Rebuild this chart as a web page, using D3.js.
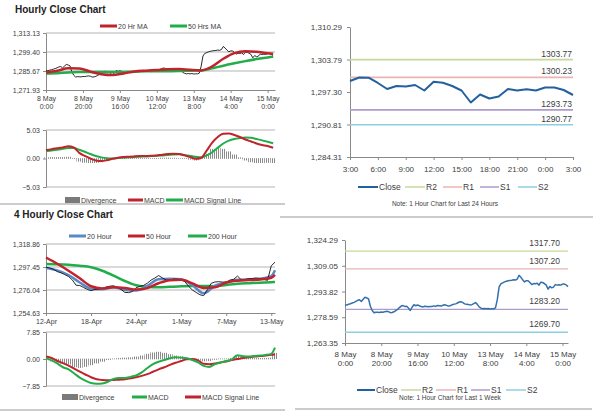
<!DOCTYPE html>
<html>
<head>
<meta charset="utf-8">
<script src="https://cdn.jsdelivr.net/npm/d3@7"></script>
<style>
body{margin:0;background:#fff}
text{font-family:"Liberation Sans",Arial,sans-serif}
</style>
</head>
<body>
<svg id="chart" width="600" height="413"></svg>
<script>
// ---- data ----
// hourly close, 8 May 0:00 .. 15 May 3:00 (weekend skipped)
var hourClose = [
1286.0,1285.8,1286.3,1286.6,1287.0,1287.4,1288.0,1288.6,1288.9,1287.9,
1289.2,1290.4,1290.0,1289.4,1285.1,1282.6,1281.3,1281.6,1281.5,1281.4,
1281.7,1281.6,1281.9,1282.1,1281.9,1281.3,1281.4,1281.8,1282.5,1283.2,
1284.3,1285.2,1285.5,1285.0,1285.1,1284.0,1282.6,1284.5,1286.0,1285.4,
1285.8,1285.4,1284.9,1284.7,1285.1,1285.0,1284.8,1285.0,1285.0,1285.3,
1285.0,1285.6,1285.4,1285.2,1285.7,1286.0,1285.6,1285.2,1285.4,1285.9,
1286.3,1286.5,1287.0,1287.6,1287.8,1287.2,1286.5,1286.3,1286.1,1285.9,
1286.0,1286.6,1287.3,1286.2,1284.7,1284.0,1283.6,1283.8,1283.6,1283.8,
1283.5,1283.6,1283.6,1284.1,1289.0,1296.5,1298.4,1298.9,1299.5,1299.9,
1300.2,1300.4,1300.5,1300.8,1300.6,1301.2,1303.4,1302.2,1300.8,1299.5,
1300.2,1300.15,1299.1,1297.9,1298.5,1298.4,1298.7,1297.6,1299.35,1299.15,
1298.5,1297.6,1295.2,1296.8,1296.0,1296.4,1297.9,1297.6,1297.85,1297.6,
1298.2,1298.2,1297.7,1296.7
];
var hourMaIdx = [0,6,12,18,24,30,36,42,48,54,60,66,72,78,84,90,96,102,108,114,120,123];
var ma20Hr = [1284.5,1285.8,1287.6,1287.5,1285.2,1283.3,1282.7,1283.9,1285.3,1285.9,1286.4,1287.0,1287.1,1286.5,1286.1,1289.0,1294.5,1298.6,1299.9,1299.5,1298.5,1298.2];
var ma50Hr = [1283.7,1284.1,1284.6,1285.0,1285.0,1284.9,1284.9,1285.0,1285.2,1285.4,1285.4,1285.5,1285.6,1285.9,1286.1,1287.6,1289.5,1291.2,1292.8,1294.3,1295.5,1296.0];
var hourMacdIdx = d3.range(0, 124, 3);
var hourMacd = [1.48,1.65,1.8,1.95,2.15,1.95,1.0,0.45,0.0,-0.35,-0.45,-0.3,-0.05,0.15,0.28,0.33,0.38,0.42,0.44,0.47,0.55,0.68,0.78,0.82,0.78,0.55,0.25,-0.05,0.1,1.4,2.8,3.8,4.35,4.4,4.15,3.8,3.35,3.0,2.65,2.4,2.2,1.9];
var hourSignal = [1.30,1.42,1.55,1.7,1.85,1.85,1.55,1.2,0.8,0.45,0.2,0.05,0.0,0.08,0.15,0.22,0.28,0.32,0.36,0.42,0.48,0.55,0.62,0.7,0.75,0.62,0.45,0.3,0.2,0.55,1.1,1.9,2.65,3.15,3.45,3.6,3.7,3.65,3.45,3.2,2.95,2.7];
var hourDiv = [0.2,0.25,0.25,0.25,0.3,0.1,-0.55,-0.75,-0.8,-0.8,-0.65,-0.35,-0.05,0.07,0.13,0.11,0.1,0.1,0.08,0.05,0.07,0.13,0.16,0.12,0.03,-0.07,-0.2,-0.35,-0.1,0.85,1.7,1.9,1.7,1.25,0.7,0.2,-0.35,-0.65,-0.8,-0.8,-0.75,-0.8];

// last 24 hours = tail of the hourly series
var dayStart = 99;

// 4 hourly close, 12 Apr .. 13 May
var h4Idx = d3.range(0, 123, 2);
var h4Close = [
1297.4,1296.5,1295.3,1293.2,1292.0,1290.4,1288.6,1285.5,1280.5,1280.2,
1278.4,1276.6,1275.4,1276.5,1276.9,1277.6,1278.8,1279.6,1280.0,1278.5,
1276.6,1273.8,1273.6,1274.6,1278.2,1279.4,1280.3,1282.4,1285.3,1287.2,
1289.5,1287.3,1285.4,1285.2,1286.3,1286.2,1285.6,1283.8,1279.5,1276.0,
1273.8,1271.6,1270.8,1276.5,1282.2,1283.5,1283.8,1283.4,1283.3,1285.3,
1286.0,1289.0,1285.6,1285.8,1286.5,1286.8,1287.2,1286.6,1286.0,1285.0,
1298.5,1302.0
];
var h4MaIdx = [0,6,12,18,24,30,36,42,48,54,60,66,72,78,84,90,96,102,108,114,120,122];
var ma20Hour = [1296.5,1294.3,1290.0,1283.0,1277.3,1276.8,1278.6,1276.0,1275.5,1279.8,1286.0,1286.5,1286.0,1280.5,1273.0,1280.0,1282.8,1285.5,1286.0,1286.5,1289.0,1294.5];
var ma50Hour = [1306.3,1300.5,1294.0,1287.0,1279.5,1277.5,1278.7,1278.0,1276.4,1277.8,1282.3,1285.2,1285.5,1282.2,1278.0,1278.5,1283.0,1284.7,1285.3,1285.9,1287.5,1290.2];
var ma200Hour = [1300.3,1300.1,1299.6,1298.6,1297.3,1294.0,1289.5,1284.4,1280.4,1279.0,1278.5,1279.0,1279.5,1279.8,1279.8,1279.6,1280.8,1281.8,1282.4,1282.9,1283.3,1283.5];
var h4MacdIdx = d3.range(0, 121, 3).concat([122]);
var h4Macd = [0.2,-0.4,-1.3,-2.4,-3.0,-4.2,-5.4,-6.3,-7.0,-7.2,-7.1,-6.6,-5.8,-5.5,-5.5,-5.2,-4.8,-3.9,-2.6,-1.5,-0.8,-0.3,0.2,0.5,0.4,0.2,-0.3,-1.0,-2.0,-2.3,-1.5,-1.0,-0.6,-0.1,1.1,0.8,0.7,0.9,1.0,1.2,1.5,3.3];
var h4Signal = [0.7,0.3,-0.5,-1.2,-1.9,-2.8,-3.7,-4.5,-5.3,-5.9,-6.1,-6.2,-6.1,-6.0,-5.9,-5.6,-5.3,-4.9,-4.4,-3.7,-3.0,-2.4,-1.7,-1.1,-0.6,-0.1,0.0,-0.4,-1.4,-1.5,-1.3,-1.0,-0.7,-0.3,0.0,0.3,0.5,0.7,0.85,1.0,1.2,1.4];
var h4Div = [-0.3,-0.7,-1.0,-1.4,-1.6,-2.4,-2.6,-2.3,-1.8,-1.3,-0.8,-0.3,0.1,0.3,0.4,0.5,0.7,1.0,1.5,1.9,2.1,1.8,1.4,1.0,0.8,0.4,-0.2,-0.5,-0.7,-0.6,-0.2,0.1,0.1,0.3,0.9,0.5,0.3,0.3,0.3,0.3,0.4,1.8];

// ticks / labels
var hourTickIdx = [0,20,40,60,80,100,120];
var hourTicks = ["8 May|0:00","8 May|20:00","9 May|16:00","10 May|12:00","13 May|8:00","14 May|4:00","15 May|0:00"];
var dayTickIdx = [0,3,6,9,12,15,18,21,24];
var dayTicks = ["3:00","6:00","9:00","12:00","15:00","18:00","21:00","0:00","3:00"];
var h4TickIdx = [0,24,48,72,96,120];
var h4Ticks = ["12-Apr","18-Apr","24-Apr","1-May","7-May","13-May"];
var hourPriceTicks = [1271.93,1285.67,1299.40,1313.13];
var hourMacdTicks = [-5.03,0,5.03];
var dayPriceTicks = [1284.31,1290.81,1297.30,1303.79,1310.29];
var h4PriceTicks = [1254.63,1276.04,1297.45,1318.86];
var h4MacdTicks = [-7.85,0,7.85];
var weekPriceTicks = [1263.35,1278.59,1293.82,1309.05,1324.29];
var levelNames = ["R2","R1","S1","S2"];
var dayLevels = [1303.77,1300.23,1293.73,1290.77];
var weekLevels = [1317.70,1307.20,1283.20,1269.70];

var RED = "#c0232c", GREEN = "#23ad4a", BLUE = "#5a8ac6", CLOSE = "#23609f";
var levelColors = ["#c6d89e","#eab4b4","#ad9bcb","#8ccfe0"];
var AXIS = "#8a8a8a", GRID = "#b4b4b4", TXT = "#404040";

var svg = d3.select("#chart");
svg.append("rect").attr("width", 600).attr("height", 413).attr("fill", "#fff");
svg.append("defs").append("pattern")
    .attr("id", "hatch").attr("patternUnits", "userSpaceOnUse")
    .attr("width", 2).attr("height", 4)
    .append("rect").attr("width", 1).attr("height", 4).attr("fill", "#8a8a8a");

var fmt2 = d3.format(",.2f");

function styleAxis(g, size) {
    g.attr("font-family", "Liberation Sans, Arial, sans-serif").attr("font-size", size);
    g.select(".domain").attr("stroke", AXIS);
    g.selectAll(".tick line").attr("stroke", AXIS);
    g.selectAll(".tick text").attr("fill", TXT);
}

function leftAxis(x0, y, ticks, size, pad, f) {
    var g = svg.append("g").attr("transform", "translate(" + x0 + ",0)")
        .call(d3.axisLeft(y).tickValues(ticks).tickSize(3).tickSizeOuter(0).tickPadding(pad).tickFormat(f || fmt2));
    styleAxis(g, size);
    return g;
}

function bottomAxis(y0, x, idx, labels, size, pad) {
    var g = svg.append("g").attr("transform", "translate(0," + y0 + ")")
        .call(d3.axisBottom(x).tickValues(idx).tickSize(3).tickSizeOuter(0).tickPadding(pad)
            .tickFormat(function(d, i) { return labels[i]; }));
    styleAxis(g, size);
    g.selectAll(".tick text").each(function() {
        var t = d3.select(this), parts = t.text().split("|");
        t.text(null).attr("dy", null);
        parts.forEach(function(p, i) {
            t.append("tspan").attr("x", 0).attr("dy", i ? "1.15em" : "0.71em").text(p);
        });
    });
    return g;
}

function grid(y, vals, x0, x1, dash) {
    svg.append("g").selectAll("line").data(vals).enter().append("line")
        .attr("x1", x0).attr("x2", x1)
        .attr("y1", function(d) { return y(d); }).attr("y2", function(d) { return y(d); })
        .attr("stroke", GRID).attr("stroke-width", 1)
        .attr("stroke-dasharray", dash || null);
}

function series(x, y, idx, vals, color, w, curve) {
    svg.append("path")
        .attr("d", d3.line().curve(curve || d3.curveLinear)
            .x(function(d, i) { return x(idx[i]); })
            .y(function(d) { return y(d); })(vals))
        .attr("fill", "none").attr("stroke", color).attr("stroke-width", w)
        .attr("stroke-linejoin", "round");
}

function divBars(x, y, idx, vals, step) {
    var bw = x(step) - x(0);
    svg.append("g").selectAll("rect").data(vals).enter().append("rect")
        .attr("x", function(d, i) { return x(idx[i]) - bw / 2; })
        .attr("width", bw)
        .attr("y", function(d) { return Math.min(y(d), y(0)); })
        .attr("height", function(d) { return Math.abs(y(d) - y(0)); })
        .attr("fill", "url(#hatch)");
}

function legend(y, items, size) {
    var g = svg.append("g");
    items.forEach(function(it) {
        if (it.kind == "hatch")
            g.append("rect").attr("x", it.x).attr("y", y - 3).attr("width", it.w).attr("height", 6).attr("fill", "#7a7a7a");
        else
            g.append("line").attr("x1", it.x).attr("x2", it.x + it.w).attr("y1", y).attr("y2", y)
                .attr("stroke", it.color).attr("stroke-width", it.sw || 3);
        g.append("text").attr("x", it.x + it.w + 1).attr("y", y + size * 0.36)
            .attr("font-size", size).attr("fill", TXT).text(it.label);
    });
}

function title(x, y, t) {
    svg.append("text").attr("x", x).attr("y", y).attr("font-size", 10)
        .attr("font-weight", "bold").attr("fill", "#222").text(t);
}

function divider(x0, x1, y) {
    svg.append("line").attr("x1", x0).attr("x2", x1).attr("y1", y).attr("y2", y)
        .attr("stroke", "#999").attr("stroke-width", 1);
}

// ---- Hourly close chart ----
title(15, 13, "Hourly Close Chart");
legend(26, [
    {x: 100, w: 17, color: RED, label: "20 Hr MA"},
    {x: 170, w: 17, color: GREEN, label: "50 Hrs MA"}
], 7);

var x1 = d3.scaleLinear().domain([0, 124]).range([46, 275]);
var y1 = d3.scaleLinear().domain([1271.93, 1313.13]).range([90, 33]);
grid(y1, hourPriceTicks.slice(1), 46, 275);
leftAxis(46, y1, hourPriceTicks, 7, 3);
bottomAxis(90, x1, hourTickIdx, hourTicks, 7, 3);
series(x1, y1, d3.range(hourClose.length), hourClose, "#111", 0.9);
series(x1, y1, hourMaIdx, ma50Hr, GREEN, 2.5, d3.curveMonotoneX);
series(x1, y1, hourMaIdx, ma20Hr, RED, 2.5, d3.curveMonotoneX);

var ym1 = d3.scaleLinear().domain([-5.03, 5.03]).range([187, 130]);
grid(ym1, [5.03, -5.03], 46, 275);
grid(ym1, [0], 46, 275, "1,1");
leftAxis(46, ym1, hourMacdTicks, 7, 3);
divBars(x1, ym1, hourMacdIdx, hourDiv, 3);
series(x1, ym1, hourMacdIdx, hourSignal, GREEN, 2, d3.curveMonotoneX);
series(x1, ym1, hourMacdIdx, hourMacd, RED, 2, d3.curveMonotoneX);
legend(200, [
    {x: 65, w: 15, kind: "hatch", label: "Divergence"},
    {x: 128, w: 15, color: RED, label: "MACD"},
    {x: 166, w: 17, color: GREEN, label: "MACD Signal Line"}
], 7);
divider(0, 285, 204);

// ---- Last 24 hours ----
var dayClose = hourClose.slice(dayStart);
var x2 = d3.scaleLinear().domain([0, 24]).range([350, 573]);
var y2 = d3.scaleLinear().domain([1284.31, 1310.29]).range([157, 27]);
leftAxis(350, y2, dayPriceTicks, 8, 5);
bottomAxis(157, x2, dayTickIdx, dayTicks, 8, 6);
svg.append("g").selectAll("line").data(dayLevels).enter().append("line")
    .attr("x1", 350).attr("x2", 573)
    .attr("y1", function(d) { return y2(d); }).attr("y2", function(d) { return y2(d); })
    .attr("stroke", function(d, i) { return levelColors[i]; }).attr("stroke-width", 1.6);
svg.append("g").selectAll("text").data(dayLevels).enter().append("text")
    .attr("x", 572).attr("y", function(d) { return y2(d) - 3; })
    .attr("text-anchor", "end").attr("font-size", 8.5).attr("fill", TXT)
    .text(function(d) { return d.toFixed(2); });
series(x2, y2, d3.range(dayClose.length), dayClose, CLOSE, 2);
legend(187, [
    {x: 358, w: 20, color: CLOSE, label: "Close", sw: 2},
    {x: 405, w: 20, color: levelColors[0], label: "R2", sw: 1.5},
    {x: 443, w: 19, color: levelColors[1], label: "R1", sw: 1.5},
    {x: 480, w: 19, color: levelColors[2], label: "S1", sw: 1.5},
    {x: 518, w: 19, color: levelColors[3], label: "S2", sw: 1.5}
], 8.5);
svg.append("text").attr("x", 445).attr("y", 206).attr("text-anchor", "middle")
    .attr("font-size", 6.5).attr("fill", TXT).text("Note: 1 Hour Chart for Last 24 Hours");
divider(280, 593, 217);

// ---- 4 Hourly close chart ----
title(14, 218, "4 Hourly Close Chart");
legend(236, [
    {x: 69, w: 17, color: BLUE, label: "20 Hour"},
    {x: 128, w: 17, color: RED, label: "50 Hour"},
    {x: 188, w: 19, color: GREEN, label: "200 Hour"}
], 7);
var x3 = d3.scaleLinear().domain([0, 122]).range([46, 275]);
var y3 = d3.scaleLinear().domain([1254.63, 1318.86]).range([313, 244]);
grid(y3, h4PriceTicks.slice(1), 46, 275);
leftAxis(46, y3, h4PriceTicks, 7, 3);
bottomAxis(313, x3, h4TickIdx, h4Ticks, 7, 3);
series(x3, y3, h4MaIdx, ma200Hour, GREEN, 2.5, d3.curveMonotoneX);
series(x3, y3, h4MaIdx, ma20Hour, BLUE, 2.5, d3.curveMonotoneX);
series(x3, y3, h4Idx, h4Close, "#111", 0.9);
series(x3, y3, h4MaIdx, ma50Hour, RED, 2.5, d3.curveMonotoneX);

var ym3 = d3.scaleLinear().domain([-7.85, 7.85]).range([386, 332]);
grid(ym3, [7.85, -7.85], 46, 275);
grid(ym3, [0], 46, 275, "1,1");
leftAxis(46, ym3, h4MacdTicks, 7, 3);
divBars(x3, ym3, h4MacdIdx, h4Div, 3);
series(x3, ym3, h4MacdIdx, h4Signal, RED, 2, d3.curveMonotoneX);
series(x3, ym3, h4MacdIdx, h4Macd, GREEN, 2, d3.curveMonotoneX);
legend(397, [
    {x: 62, w: 16, kind: "hatch", label: "Divergence"},
    {x: 132, w: 15, color: GREEN, label: "MACD"},
    {x: 185, w: 16, color: RED, label: "MACD Signal Line"}
], 7);
divider(0, 285, 410);

// ---- Last 1 week ----
var x4 = d3.scaleLinear().domain([0, 123]).range([345, 568]);
var y4 = d3.scaleLinear().domain([1263.35, 1324.29]).range([343, 240]);
leftAxis(345, y4, weekPriceTicks, 8, 4);
bottomAxis(343, x4, hourTickIdx, hourTicks, 8, 5);
svg.append("g").selectAll("line").data(weekLevels).enter().append("line")
    .attr("x1", 345).attr("x2", 568)
    .attr("y1", function(d) { return y4(d); }).attr("y2", function(d) { return y4(d); })
    .attr("stroke", function(d, i) { return levelColors[i]; }).attr("stroke-width", 1.3);
svg.append("g").selectAll("text").data(weekLevels).enter().append("text")
    .attr("x", 560).attr("y", function(d) { return y4(d) - 5; })
    .attr("text-anchor", "end").attr("font-size", 8.5).attr("fill", TXT)
    .text(function(d) { return d.toFixed(2); });
series(x4, y4, d3.range(hourClose.length), hourClose, "#3470ad", 1.5);
legend(390, [
    {x: 357, w: 18, color: CLOSE, label: "Close", sw: 2},
    {x: 401, w: 20, color: levelColors[0], label: "R2", sw: 1.5},
    {x: 436, w: 20, color: levelColors[1], label: "R1", sw: 1.5},
    {x: 471, w: 19, color: levelColors[2], label: "S1", sw: 1.5},
    {x: 506, w: 20, color: levelColors[3], label: "S2", sw: 1.5}
], 8.5);
svg.append("text").attr("x", 450).attr("y", 400).attr("text-anchor", "middle")
    .attr("font-size", 6.5).attr("fill", TXT).text("Note: 1 Hour Chart for Last 1 Week");
divider(295, 592, 409);
</script>
</body>
</html>
